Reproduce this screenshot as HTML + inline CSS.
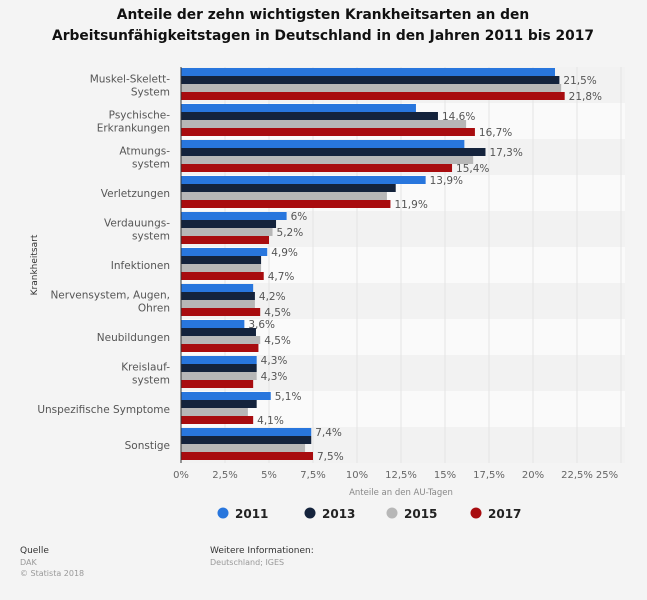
<!DOCTYPE html>
<html><head><meta charset="utf-8">
<style>
body{margin:0;background:#f4f4f4;width:647px;height:600px;overflow:hidden;font-family:"DejaVu Sans","Liberation Sans",sans-serif;}
svg{position:absolute;left:0;top:0}
</style></head>
<body>
<svg id="chart" width="647" height="600">
<text x="323" y="19" text-anchor="middle" font-size="13.8" font-weight="bold" fill="#111" font-family="DejaVu Sans, sans-serif">Anteile der zehn wichtigsten Krankheitsarten an den</text>
<text x="323" y="40" text-anchor="middle" font-size="13.8" font-weight="bold" fill="#111" font-family="DejaVu Sans, sans-serif">Arbeitsunfähigkeitstagen in Deutschland in den Jahren 2011 bis 2017</text>
<text transform="translate(37,265) rotate(-90)" text-anchor="middle" font-size="9" fill="#333">Krankheitsart</text>
<text x="401" y="495" text-anchor="middle" font-size="8.5" fill="#888">Anteile an den AU-Tagen</text>
<text x="20" y="553" font-size="9" fill="#333">Quelle</text>
<text x="20" y="565" font-size="8" fill="#999">DAK</text>
<text x="20" y="576" font-size="8" fill="#999">© Statista 2018</text>
<text x="210" y="553" font-size="9" fill="#333">Weitere Informationen:</text>
<text x="210" y="565" font-size="8" fill="#999">Deutschland; IGES</text>
</svg>
<script>
const categories=[["Muskel-Skelett-","System"],["Psychische-","Erkrankungen"],["Atmungs-","system"],["Verletzungen"],["Verdauungs-","system"],["Infektionen"],["Nervensystem, Augen,","Ohren"],["Neubildungen"],["Kreislauf-","system"],["Unspezifische Symptome"],["Sonstige"]];
const years=["2011","2013","2015","2017"];
const colors=["#2876dd","#14233c","#b7b7b7","#a80c0f"];
const v2011=[21.25,13.35,16.1,13.9,6,4.9,4.1,3.6,4.3,5.1,7.4];
const v2013=[21.5,14.6,17.3,12.2,5.4,4.55,4.2,4.26,4.3,4.3,7.4];
const v2015=[21.6,16.2,16.6,11.7,5.2,4.55,4.2,4.5,4.3,3.8,7.05];
const v2017=[21.8,16.7,15.4,11.9,5.0,4.7,4.5,4.4,4.1,4.1,7.5];
const l2011=[null,null,null,"13,9%","6%","4,9%",null,"3,6%","4,3%","5,1%","7,4%"];
const l2013=["21,5%","14,6%","17,3%",null,null,null,"4,2%",null,null,null,null];
const l2015=[null,null,null,null,"5,2%",null,null,"4,5%","4,3%",null,null];
const l2017=["21,8%","16,7%","15,4%","11,9%",null,"4,7%","4,5%",null,null,"4,1%","7,5%"];
const ticks=[0,2.5,5,7.5,10,12.5,15,17.5,20,22.5,25];
const tickLabels=["0%","2,5%","5%","7,5%","10%","12,5%","15%","17,5%","20%","22,5%","25%"];
const series=[v2011,v2013,v2015,v2017];
const labels=[l2011,l2013,l2015,l2017];
const NS="http://www.w3.org/2000/svg";
const svg=document.getElementById("chart");
const X0=181,X1=621,Y0=67,GH=36;
const x=v=>X0+(v/25)*(X1-X0);
const gy=i=>Y0+i*GH;
function mk(t,a){const e=document.createElementNS(NS,t);for(const k in a)e.setAttribute(k,a[k]);svg.appendChild(e);return e;}
categories.forEach((c,i)=>{
  const b=mk("rect",{x:X0,y:gy(i),width:X1-X0+4,height:GH,fill:i%2?"#fafafa":"#f2f2f2"});
  
  
});
ticks.forEach((t,i)=>{
  const l=mk("line",{x1:x(t),x2:x(t),y1:Y0,y2:gy(categories.length),stroke:"#e4e4e4","stroke-width":1});
  
  
  const tx=mk("text",{x:i==ticks.length-1?x(t)-14:x(t),y:478,"text-anchor":"middle","font-size":10,fill:"#666"});
  tx.textContent=tickLabels[i];
  
  
});
categories.forEach((c,i)=>{
  const cy=gy(i)+GH/2;
  c.forEach((line,j)=>{
    const t=mk("text",{x:170,y:cy+4+(j-(c.length-1)/2)*13,"text-anchor":"end","font-size":10.5,fill:"#555"});
    t.textContent=line;
    
    
  });
  series.forEach((s,k)=>{
    const by=gy(i)+1+k*8;
    const r=mk("rect",{x:X0,y:by,width:x(s[i])-X0,height:8,fill:colors[k]});
    
    
    const lb=labels[k][i];
    if(lb){
      const t=mk("text",{x:x(s[i])+4,y:by+8,"font-size":10.5,fill:"#555"});
      t.textContent=lb;
      
      
    }
  });
});
const ax=mk("line",{x1:X0,x2:X0,y1:Y0,y2:gy(categories.length),stroke:"#333","stroke-width":1});


const lx=[223,310,392,476];
years.forEach((y,k)=>{
  const c=mk("circle",{cx:lx[k],cy:513,r:5.5,fill:colors[k]});
  
  
  const t=mk("text",{x:lx[k]+12,y:518,"font-size":12,"font-weight":"bold",fill:"#222"});
  t.textContent=y;
  
  
});
</script>
</body></html>
